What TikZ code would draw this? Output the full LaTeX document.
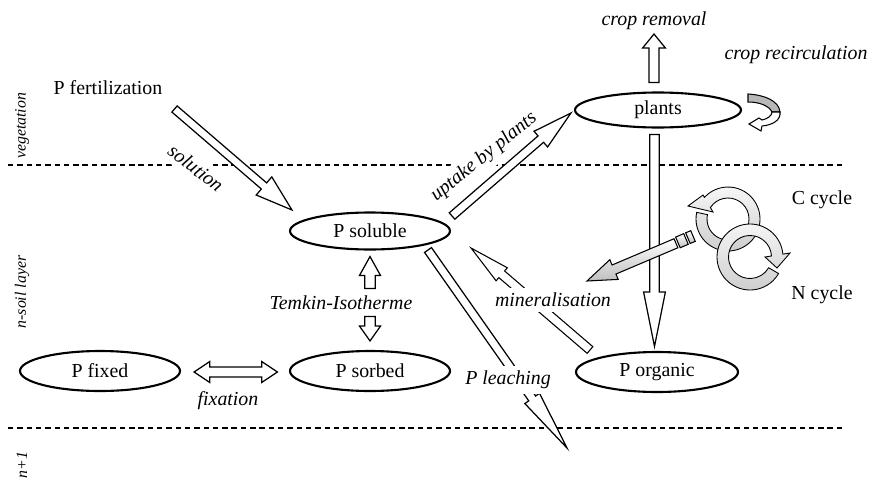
\documentclass[tikz,border=0pt]{standalone}
\usepackage{fontspec}
\setmainfont{Liberation Serif}
\usetikzlibrary{shapes.geometric,calc}

\newcommand{\blockarrow}[6][]{%
  \path (#2) coordinate (atail);
  \path (#3) coordinate (atip);
  \path ($(atip)!#6!(atail)$) coordinate (ahead);
  \draw [#1] ($(atail)!#4!90:(atip)$) -- ($(ahead)!#4!90:(atip)$)
    -- ($(ahead)!#5!90:(atip)$) -- (atip) -- ($(ahead)!#5!-90:(atip)$)
    -- ($(ahead)!#4!-90:(atip)$) -- ($(atail)!#4!-90:(atip)$) -- cycle;}

\newcommand{\doubleblock}[6][]{%
  \path (#2) coordinate (dtail);
  \path (#3) coordinate (dtip);
  \path ($(dtail)!#6!(dtip)$) coordinate (dheada);
  \path ($(dtip)!#6!(dtail)$) coordinate (dheadb);
  \draw [#1] (dtail) -- ($(dheada)!#5!90:(dtip)$) -- ($(dheada)!#4!90:(dtip)$)
    -- ($(dheadb)!#4!90:(dtip)$) -- ($(dheadb)!#5!90:(dtip)$) -- (dtip)
    -- ($(dheadb)!#5!-90:(dtip)$) -- ($(dheadb)!#4!-90:(dtip)$)
    -- ($(dheada)!#4!-90:(dtip)$) -- ($(dheada)!#5!-90:(dtip)$) -- cycle;}

\newcommand{\blockbar}[4][]{%
  \path (#2) coordinate (btail);
  \path (#3) coordinate (btip);
  \draw [#1] ($(btail)!#4!90:(btip)$) -- ($(btip)!#4!-90:(btail)$)
    -- ($(btip)!#4!90:(btail)$) -- ($(btail)!#4!-90:(btip)$) -- cycle;}

\begin{document}
\begin{tikzpicture}[x=0.02cm,y=0.02cm,
  every node/.style={font=\fontsize{11.3}{13.5}\selectfont},
  pool/.style={draw,ellipse,line width=1.2pt,fill=white,minimum width=3.2cm,minimum height=0.8cm,inner sep=0pt},
  lab/.style={font=\fontsize{11.3}{13.5}\selectfont\itshape},
  cut/.style={lab,fill=white,inner sep=3pt},
  side/.style={font=\fontsize{9}{11}\selectfont\itshape,rotate=90},
  flow/.style={draw,fill=white,line width=0.7pt},
  layer/.style={line width=0.85pt,dash pattern=on 3.1pt off 2.2pt},
  ring/.style={draw,line width=0.5pt,top color=black!3,bottom color=black!20},
  pointer/.style={draw,line width=0.6pt,top color=white,bottom color=black!25},
  recirc/.style={draw,line width=0.6pt,fill=black!28}]

\useasboundingbox (0,0) rectangle (872,-487);

\node [pool,minimum width=3.32cm,minimum height=0.7cm] at (658,-110) (plants) {plants};
\node [pool,minimum height=0.74cm] at (370,-231) (soluble) {P soluble};
\node [pool] at (370,-371) (sorbed) {P sorbed};
\node [pool] at (100,-371) (fixed) {P fixed};
\node [pool,minimum width=3.24cm] at (657,-372) (organic) {P organic};
\node at (108,-88) (fert) {P fertilization};

\draw [layer] (8,-165) -- (845,-165);
\draw [layer] (8,-428) -- (845,-428);

\node [side] at (22,-126) (veg) {vegetation};
\node [side] at (22,-292) (soil) {n-soil layer};
\node [side] at (22,-465) (next) {n+1};

\node [cut,rotate=-38] at (196,-168) (sol) {solution};
\node [cut,rotate=39] at (484,-157) (upt) {uptake by plants};

\coordinate (removed) at (654,-34);
\coordinate (leached) at (567,-448);
\coordinate (pentip) at (587,-281);
\coordinate (penend) at (693,-236);

\blockarrow[flow]{$(fert.east)+(6,-21)$}{$(soluble.west)+(3,21)$}{2.3pt}{6.8pt}{21pt}
\blockarrow[flow]{$(soluble.east)+(1,15)$}{$(plants.west)+(-3,-3)$}{2.4pt}{5.9pt}{22.7pt}
\blockarrow[flow]{$(plants.north)+(-4,9)$}{removed}{2.8pt}{6.5pt}{8pt}
\blockarrow[flow]{$(plants.south)+(-3.5,-6)$}{$(organic.north)+(-2.5,4.5)$}{2.7pt}{6.2pt}{31pt}
\blockarrow[flow,line width=0.6pt]{$(organic)+(-67,22)$}{$(soluble.east)+(20,-17)$}{2.5pt}{4.9pt}{23pt}
\blockarrow[flow]{$(soluble)+(58,-19)$}{leached}{2.4pt}{5.1pt}{34.5pt}
\blockarrow[flow]{$(soluble.south)+(0,-38)$}{$(soluble.south)+(0,-6)$}{3pt}{6pt}{10.8pt}
\blockarrow[flow]{$(sorbed.north)+(0,33.5)$}{$(sorbed.north)+(0,9)$}{3pt}{6pt}{8.5pt}
\doubleblock[flow]{$(fixed.east)+(13,-1)$}{$(sorbed.west)+(-11.5,-1)$}{2.8pt}{6pt}{9pt}

\draw [recirc] (748,-94) .. controls (765,-95) and (779,-101) .. (780,-112)
  -- (772,-112) .. controls (769,-106) and (760,-102) .. (748,-102) -- cycle;
\draw [flow,line width=0.6pt] (780,-112) .. controls (781,-120) and (773,-125) .. (762,-126)
  -- (761,-131) -- (749,-124) -- (759,-118) -- (762,-120)
  .. controls (767,-119) and (772,-116) .. (772,-112) -- cycle;

\coordinate (ccyc) at (728,-219);
\coordinate (ncyc) at (750,-257);
\draw [ring] ($(ccyc)+(168:32)$) arc [start angle=168,end angle=497.5,radius=32]
  -- ($(ccyc)+(-25,24)$) -- ($(ccyc)+(-40,13)$) -- ($(ccyc)+(-15,7)$)
  -- ($(ccyc)+(507:21)$) arc [start angle=507,end angle=168,radius=21] -- cycle;
\draw [ring] ($(ncyc)+(330:33)$) arc [start angle=330,end angle=5,radius=33]
  -- ($(ncyc)+(40,4)$) -- ($(ncyc)+(27,-11)$) -- ($(ncyc)+(15,0)$)
  -- ($(ncyc)+(2.7:21.5)$) arc [start angle=2.7,end angle=330,radius=21.5] -- cycle;

\blockarrow[pointer]{$(pentip)!55pt!(penend)$}{pentip}{2.8pt}{6.1pt}{16.7pt}
\blockbar[pointer]{$(pentip)!56.2pt!(penend)$}{$(pentip)!61.2pt!(penend)$}{3.3pt}
\blockbar[pointer]{$(pentip)!62.4pt!(penend)$}{penend}{3.3pt}

\node [lab] at (654,-21) (removal) {crop removal};
\node [lab] at (796,-55) (recirculation) {crop recirculation};
\node [lab] at (341,-303) (temkin) {Temkin-Isotherme};
\node [lab] at (228,-401) (fixation) {fixation};
\node [cut] at (508,-380) (leaching) {P leaching};
\node [cut] at (553,-300) (mineral) {mineralisation};
\node at (822,-200) (ccycle) {C cycle};
\node at (822,-295) (ncycle) {N cycle};

\end{tikzpicture}
\end{document}
